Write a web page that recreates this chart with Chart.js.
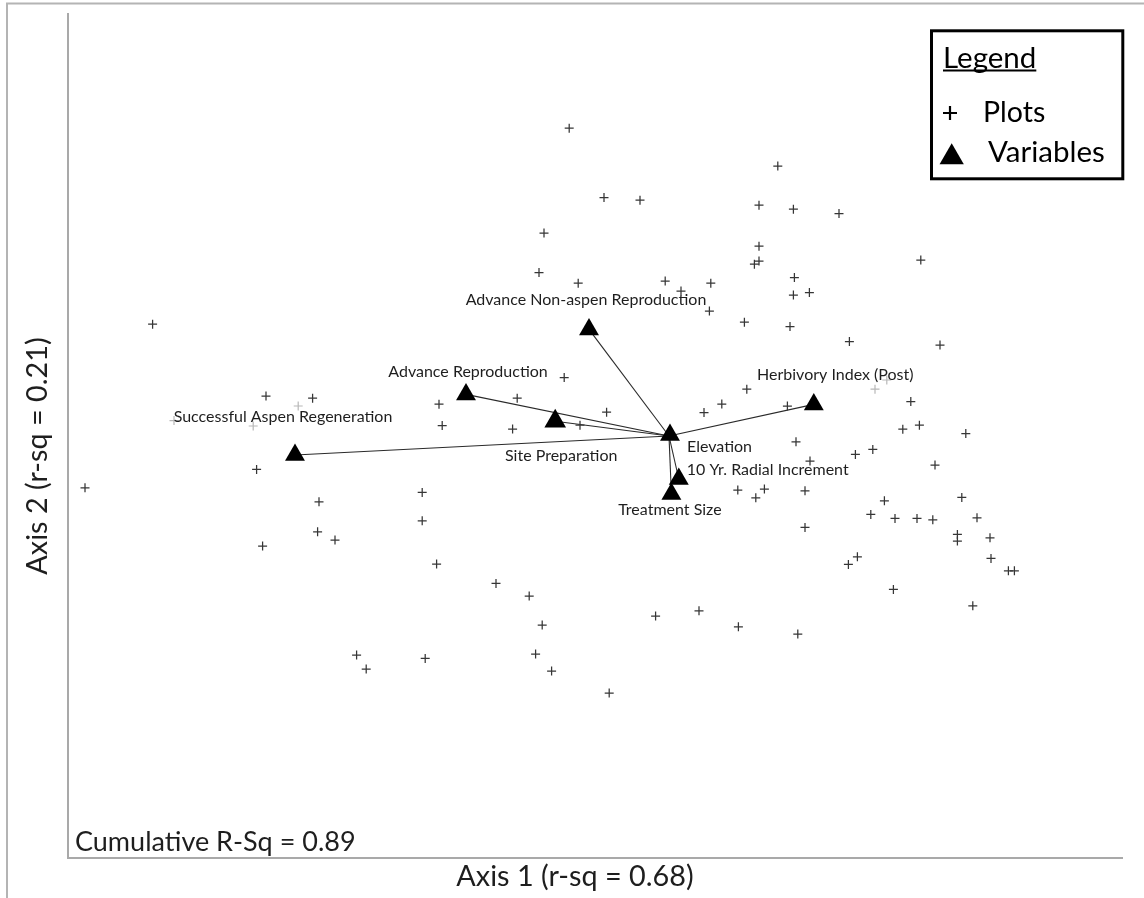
<!DOCTYPE html>
<html>
<head>
<meta charset="utf-8">
<title>NMS ordination biplot</title>
<script src="https://cdn.jsdelivr.net/npm/chart.js@4.4.1/dist/chart.umd.min.js"></script>
<style>
  html, body { margin: 0; padding: 0; background: #ffffff; }
  #wrap { position: relative; width: 1144px; height: 898px; }
  canvas { display: block; }
</style>
</head>
<body>
<div id="wrap"><canvas id="biplot" width="1144" height="898"></canvas></div>
<script>
// Ordination scores of the sample plots (axis 1, axis 2)
const plotAxis1 = [-0.499, 0.544, -0.325, -0.145, 0.45, 0.622, -0.625, 0.45, 0.427, 0.45,
  0.627, -0.65, -0.454, -0.019, 0.06, 0.209, 0.622, 0.85, 1.259, 0.702,
  0.202, 0.377, 0.605, -0.524, -0.759, -1.15, -0.312, -1.134, -0.782, -0.445,
  0.389, 0.264, 0.175, 0.592, 0.635, 0.344, 0.477, 0.434, -1.234, -1.234,
  -1.162, -0.865, -0.699, 0.902, 1.355, 1.209, 1.169, 1.252, 1.484, 1.019,
  0.932, 0.705, 1.33, 0.68, 1.077, 1.464, 1.009, 1.13, 1.24, 1.319,
  1.54, 1.442, 1.442, 1.605, 0.68, 0.897, 0.942, 1.61, 1.697, 1.727,
  1.122, 1.519, 0.644, -0.067, 0.15, 0.347, -0.634, -1.219, -0.667, -0.587,
  -0.299, -1.562, -1.514, -2.582, -2.015, -1.782, -2.062, -2.92, -1.75, -1.757,
  -1.67, -2.032];
const plotAxis2 = [1.539, 1.35, 1.192, 1.179, 1.154, 1.134, 1.015, 0.949, 0.859, 0.875,
  0.792, 0.817, 0.764, 0.775, 0.725, 0.764, 0.705, 1.112, 0.88, 0.717,
  0.625, 0.569, 0.547, 0.292, 0.189, 0.159, 0.119, 0.052, 0.035, 0.054,
  0.234, 0.16, 0.117, 0.15, -0.029, -0.27, -0.265, -0.309, -0.282, -0.424,
  -0.64, -0.737, -0.8, 0.472, 0.455, 0.172, 0.034, 0.054, 0.012, -0.067,
  -0.092, -0.125, -0.145, -0.274, -0.324, -0.307, -0.392, -0.412, -0.412, -0.419,
  -0.409, -0.492, -0.525, -0.509, -0.457, -0.642, -0.604, -0.612, -0.674, -0.674,
  -0.767, -0.849, -0.99, -0.9, -0.874, -0.954, -0.945, -1.112, -1.09, -1.175,
  -1.285, -1.095, -1.165, 0.559, 0.2, 0.189, -0.167, -0.259, -0.329, -0.479,
  -0.52, -0.55];

// Plots that sit underneath variable labels (drawn paler)
const shadedPlotAxis1 = [1.03, 1.089, -1.854, -2.079, -2.475];
const shadedPlotAxis2 = [0.234, 0.28, 0.15, 0.05, 0.077];

// Environmental variables overlaid as joint-plot vectors
const variableNames = [
  'Successful Aspen Regeneration',
  'Advance Reproduction',
  'Site Preparation',
  'Advance Non-aspen Reproduction',
  'Elevation',
  '10 Yr. Radial Increment',
  'Treatment Size',
  'Herbivory Index (Post)'
];
const variableAxis1 = [-1.87, -1.015, -0.569, -0.4, 0.005, 0.049, 0.012, 0.724];
const variableAxis2 = [-0.095, 0.208, 0.074, 0.533, 0.005, -0.215, -0.29, 0.158];

// Axis captions
const axis1Title = 'Axis 1 (r-sq = 0.68)';
const axis2Title = 'Axis 2 (r-sq = 0.21)';
const cumulativeNote = 'Cumulative R-Sq = 0.89';
const legendTitle = 'Legend';
const legendPlots = 'Plots';
const legendVariables = 'Variables';

// ---- label placement for each variable (pixel offset from its marker) ----
const labelPlacement = [
  { dx: -12, dy: -38, align: 'center' },
  { dx: 2, dy: -23, align: 'center' },
  { dx: 6, dy: 35, align: 'center' },
  { dx: -3, dy: -30, align: 'center' },
  { dx: 17, dy: 12, align: 'left' },
  { dx: 8, dy: -9, align: 'left' },
  { dx: -1.5, dy: 16, align: 'center' },
  { dx: 21.5, dy: -30, align: 'center' }
];

const FONT = 'Lato, "Open Sans", sans-serif';
const TEXT = '#1e1e1e';

const toPoints = (xs, ys) => xs.map((x, i) => ({ x, y: ys[i] }));

const datasets = [];
variableNames.forEach((name, i) => {
  datasets.push({
    type: 'line',
    label: name + ' vector',
    data: [{ x: 0, y: 0 }, { x: variableAxis1[i], y: variableAxis2[i] }],
    borderColor: '#2a2a2a',
    borderWidth: 1.1,
    pointRadius: 0,
    fill: false,
    tension: 0,
    order: 4
  });
});
datasets.push({
  type: 'scatter',
  label: 'Plots (shaded)',
  data: toPoints(shadedPlotAxis1, shadedPlotAxis2),
  pointStyle: 'cross',
  pointRadius: 4.5,
  borderColor: '#b8b8b8',
  borderWidth: 1.2,
  order: 3
});
datasets.push({
  type: 'scatter',
  label: legendPlots,
  data: toPoints(plotAxis1, plotAxis2),
  pointStyle: 'cross',
  pointRadius: 4.5,
  borderColor: '#363636',
  borderWidth: 1.25,
  order: 2
});
datasets.push({
  type: 'scatter',
  label: legendVariables,
  data: toPoints(variableAxis1, variableAxis2),
  pointStyle: 'triangle',
  pointRadius: variableNames.map((n) => n === 'Site Preparation' ? 12.5 : 11.5),
  backgroundColor: '#000000',
  borderColor: '#000000',
  borderWidth: 0,
  order: 1
});

const decorations = {
  id: 'decorations',
  beforeDraw(chart) {
    const ctx = chart.ctx;
    ctx.save();
    ctx.fillStyle = '#ffffff';
    ctx.fillRect(0, 0, chart.width, chart.height);
    // outer frame (top and left edges)
    ctx.strokeStyle = '#b4b4b4';
    ctx.lineWidth = 2;
    ctx.beginPath();
    ctx.moveTo(7, chart.height);
    ctx.lineTo(7, 3.5);
    ctx.lineTo(chart.width, 3.5);
    ctx.stroke();
    ctx.restore();
  },
  afterDatasetsDraw(chart) {
    const ctx = chart.ctx;
    const xs = chart.scales.x, ys = chart.scales.y;
    const area = chart.chartArea;
    ctx.save();
    ctx.fillStyle = TEXT;

    // variable labels
    ctx.font = '16px ' + FONT;
    ctx.textBaseline = 'middle';
    variableNames.forEach((name, i) => {
      const p = labelPlacement[i];
      const px = xs.getPixelForValue(variableAxis1[i]) + p.dx;
      const py = ys.getPixelForValue(variableAxis2[i]) + p.dy;
      ctx.textAlign = p.align;
      ctx.fillText(name, px, py);
    });

    // axis captions
    ctx.textBaseline = 'alphabetic';
    ctx.textAlign = 'center';
    ctx.font = '28.8px ' + FONT;
    ctx.fillText(axis1Title, area.left + 507, 886);
    ctx.save();
    ctx.translate(46.5, 456);
    ctx.rotate(-Math.PI / 2);
    ctx.fillText(axis2Title, 0, 0);
    ctx.restore();

    ctx.textAlign = 'left';
    ctx.font = '27px ' + FONT;
    ctx.fillText(cumulativeNote, area.left + 7, 850.5);

    // legend box
    const bx = 931.5, by = 30.8, bw = 191.3, bh = 148;
    ctx.fillStyle = '#ffffff';
    ctx.fillRect(bx, by, bw, bh);
    ctx.strokeStyle = '#000000';
    ctx.lineWidth = 3;
    ctx.strokeRect(bx, by, bw, bh);

    ctx.fillStyle = '#000000';
    ctx.font = '29.5px ' + FONT;
    ctx.fillText(legendTitle, 943, 67.7);
    const tw = ctx.measureText(legendTitle).width;
    ctx.fillRect(943, 69.5, tw, 2);

    const plotsSet = chart.data.datasets.find((d) => d.label === legendPlots);
    const varsSet = chart.data.datasets.find((d) => d.label === legendVariables);
    ctx.strokeStyle = '#000000';
    ctx.lineWidth = 2.2;
    Chart.helpers.drawPoint(ctx, { pointStyle: plotsSet.pointStyle, radius: 7, borderWidth: 2.2 }, 950, 113);
    ctx.fillStyle = '#000000';
    Chart.helpers.drawPoint(ctx, { pointStyle: varsSet.pointStyle, radius: 14, borderWidth: 0 }, 951.7, 157.3);

    ctx.fillStyle = '#000000';
    ctx.font = '28.5px ' + FONT;
    ctx.fillText(legendPlots, 983, 121.7);
    ctx.font = '29.5px ' + FONT;
    ctx.fillText(legendVariables, 988, 161.7);
    ctx.restore();
  }
};

new Chart(document.getElementById('biplot'), {
  data: { datasets },
  options: {
    responsive: false,
    animation: false,
    events: [],
    devicePixelRatio: 1,
    layout: { autoPadding: false, padding: { left: 68, top: 14, right: 22, bottom: 40 } },
    scales: {
      x: {
        type: 'linear',
        min: -3.005,
        max: 2.265,
        ticks: { display: false },
        grid: { display: true, drawOnChartArea: false, drawTicks: false },
        border: { display: true, color: '#a9a9a9', width: 2 }
      },
      y: {
        type: 'linear',
        min: -2.11,
        max: 2.11,
        ticks: { display: false },
        grid: { display: true, drawOnChartArea: false, drawTicks: false },
        border: { display: true, color: '#a9a9a9', width: 2 }
      }
    },
    plugins: {
      legend: { display: false },
      tooltip: { enabled: false },
      title: { display: false }
    }
  },
  plugins: [decorations]
});
</script>
</body>
</html>
